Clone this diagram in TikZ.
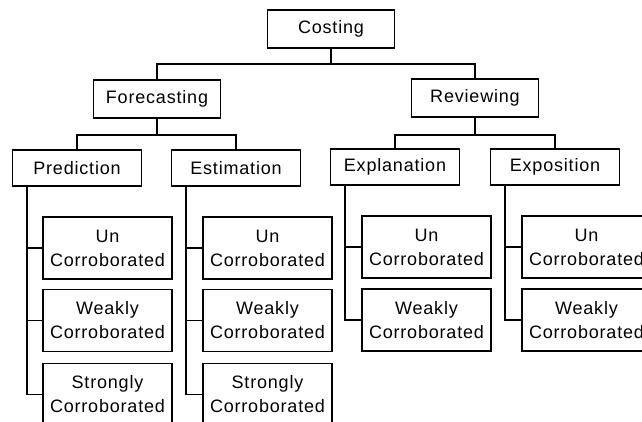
\documentclass[tikz,border=0pt]{standalone}
\usepackage{fontspec}
\setmainfont[LetterSpace=4.5]{Liberation Sans}
\usetikzlibrary{calc}

\begin{document}
\begin{tikzpicture}[x=0.75pt, y=-0.75pt, line width=1.3pt,
    box/.style={draw, inner sep=0pt, align=center, font=\fontsize{13.5}{18}\selectfont},
    topbox/.style={box, minimum width=95.25pt, minimum height=28.5pt},
    midbox/.style={box, minimum width=96.75pt, minimum height=27pt},
    leaf/.style={box, minimum width=96.75pt, minimum height=46.5pt}]

        \useasboundingbox (0,0) rectangle (642,421);
        \clip (0,0) rectangle (642,421);

        % top two levels
        \node[topbox] (cost) at (331,29) {Costing};
        \node[topbox] (fore) at (157,99) {Forecasting};
        \node[topbox] (rev) at (475,98) {Reviewing};

        \node[midbox] (pred) at (77,168) {Prediction};
        \node[midbox] (est) at (236,168) {Estimation};
        \node[midbox] (expl) at (395,167) {Explanation};
        \node[midbox] (expo) at (555,167) {Exposition};

        % leaves
        \node[leaf] (pred-un) at (107.5,248) {Un\\Corroborated};
        \node[leaf] (pred-weak) at (107.5,320.5) {Weakly\\Corroborated};
        \node[leaf] (pred-str) at (107.5,394.5) {Strongly\\Corroborated};
        \node[leaf] (est-un) at (267.5,248) {Un\\Corroborated};
        \node[leaf] (est-weak) at (267.5,320.5) {Weakly\\Corroborated};
        \node[leaf] (est-str) at (267.5,394.5) {Strongly\\Corroborated};
        \node[leaf] (expl-un) at (426.5,247) {Un\\Corroborated};
        \node[leaf] (expl-weak) at (426.5,320) {Weakly\\Corroborated};
        \node[leaf] (expo-un) at (586.5,247) {Un\\Corroborated};
        \node[leaf] (expo-weak) at (586.5,320) {Weakly\\Corroborated};

        \draw (cost.south) -- ++(0,15) -| (fore.north);
        \draw (cost.south) -- ++(0,15) -| (rev.north);
        \draw (fore.south) -- ++(0,16) -| (pred.north);
        \draw (fore.south) -- ++(0,16) -| (est.north);
        \draw (rev.south) -- ++(0,17) -| (expl.north);
        \draw (rev.south) -- ++(0,17) -| (expo.north);

        \foreach \p/\last in {pred/str, est/str, expl/weak, expo/weak} {
            \coordinate (\p-sp) at ($(\p.south west)+(15,0)$);
            \draw (\p-sp) |- (\p-\last.west);
            \draw (\p-un.west) -- (\p-sp |- \p-un.west);
            \draw (\p-weak.west) -- (\p-sp |- \p-weak.west);
        }

    \end{tikzpicture}
\end{document}
